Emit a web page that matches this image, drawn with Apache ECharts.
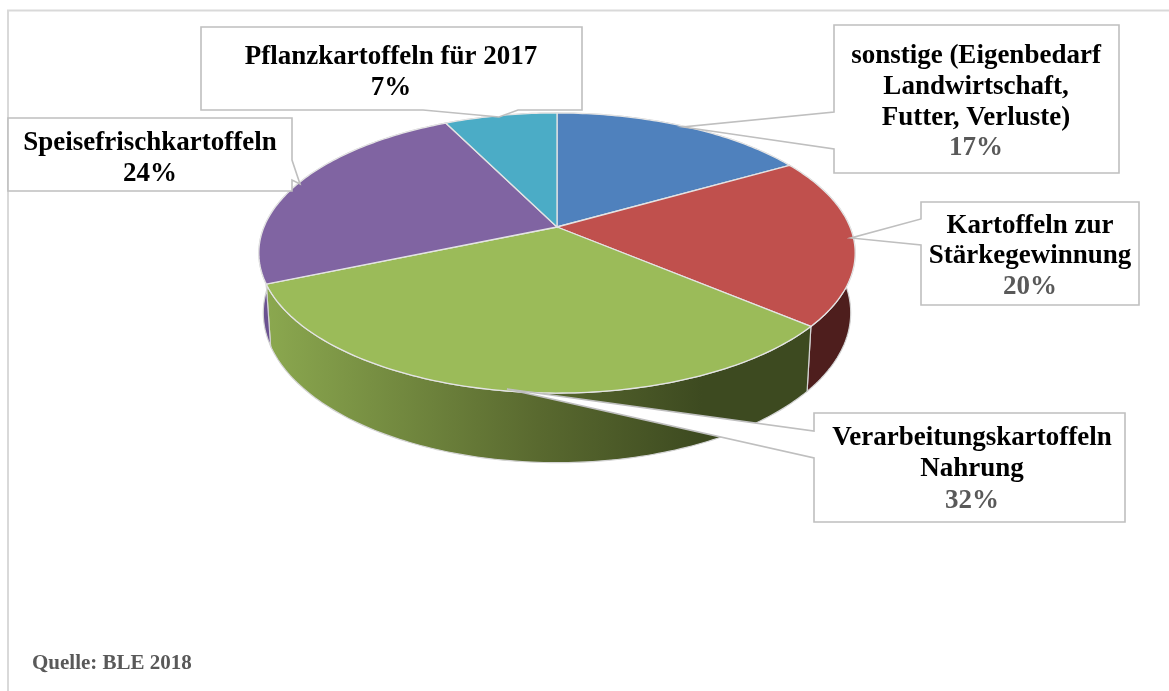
<!DOCTYPE html>
<html>
<head>
<meta charset="utf-8">
<style>html,body{margin:0;padding:0;background:#fff}#c{width:1169px;height:691px}</style>
<script src="https://cdn.jsdelivr.net/npm/echarts@6/dist/echarts.min.js"></script>
</head>
<body>
<div id="c"></div>
<script>
// --- data ---
const categories = ['sonstige (Eigenbedarf Landwirtschaft, Futter, Verluste)', 'Kartoffeln zur Stärkegewinnung', 'Verarbeitungskartoffeln Nahrung', 'Speisefrischkartoffeln', 'Pflanzkartoffeln für 2017'];
const values = [16.7, 19.5, 32.4, 24.1, 7.3];
const labelLines = [
  ['sonstige (Eigenbedarf', 'Landwirtschaft,', 'Futter, Verluste)'],
  ['Kartoffeln zur', 'Stärkegewinnung'],
  ['Verarbeitungskartoffeln', 'Nahrung'],
  ['Speisefrischkartoffeln'],
  ['Pflanzkartoffeln für 2017']
];
const source = 'Quelle: BLE 2018';

// --- style ---
const topColors = ['#4f81bd', '#c0504d', '#9bbb59', '#8064a2', '#4bacc6'];
const wallColors = ['#3a5f8c', '#4e1e1d', null, '#6a5190', '#38808f'];
const pctColors = ['#595959', '#595959', '#595959', '#000000', '#000000'];
const serif = '"Liberation Serif","Times New Roman",serif';

// --- perspective pie layout ---
const P = {cx: 557, cy: 227, rx: 293, ry: 135.2, k: 0.1857, depth: 58, shrinkX: 0.985, shrinkY: 1.07};
function project(theta, lower) {
  const u = Math.sin(theta), v = Math.cos(theta), d = 1 + P.k * v;
  const sx = lower ? P.shrinkX : 1, sy = lower ? P.shrinkY : 1;
  return [P.cx + sx * P.rx * u / d, P.cy + (lower ? P.depth : 0) - sy * P.ry * v / d];
}
const total = values.reduce((a, b) => a + b, 0);
function sliceAngles(i) {
  let before = 0;
  for (let j = 0; j < i; j++) before += values[j];
  return [before / total * 2 * Math.PI, (before + values[i]) / total * 2 * Math.PI];
}
function arc(a0, a1, lower) {
  const n = Math.max(2, Math.ceil((a1 - a0) / (Math.PI / 180)));
  const pts = [];
  for (let t = 0; t <= n; t++) pts.push(project(a0 + (a1 - a0) * t / n, lower));
  return pts;
}

// --- callout layout: box [l, t, r, b], leader [start, apex, end], text centre x, line centres y, pct centre y ---
const callouts = [
  {box: [834, 25, 1119, 173], leader: [[834, 112], [683, 127], [834, 149]], side: 'left',   tx: 976,  ty: [56, 87, 118], py: 148},
  {box: [921, 202, 1139, 305], leader: [[921, 219], [851, 238], [921, 245]], side: 'left',   tx: 1030, ty: [226, 256], py: 287},
  {box: [814, 413, 1125, 522], leader: [[814, 431], [507, 389], [814, 458]], side: 'left',   tx: 972,  ty: [438, 469], py: 501},
  {box: [8, 118, 292, 191], leader: [[292, 160], [300, 184], [292, 180]], side: 'right',  tx: 150,  ty: [143], py: 174},
  {box: [201, 27, 582, 110], leader: [[518, 110], [499, 117], [423, 110]], side: 'bottom', tx: 391,  ty: [57], py: 88}
];
function calloutPoints(c) {
  const [l, t, r, b] = c.box;
  if (c.side === 'left')  return [[l, t], [r, t], [r, b], [l, b], c.leader[2], c.leader[1], c.leader[0]];
  if (c.side === 'right') return [[l, t], [r, t], c.leader[0], c.leader[1], c.leader[2], [r, b], [l, b]];
  return [[l, t], [r, t], [r, b], c.leader[0], c.leader[1], c.leader[2], [l, b]];
}

const chart = echarts.init(document.getElementById('c'), null, {renderer: 'canvas'});
chart.setOption({
  animation: false,
  backgroundColor: '#fff',
  tooltip: {show: false},
  title: {
    text: source, left: 32, top: 653, padding: 0,
    textStyle: {fontFamily: serif, fontWeight: 'bold', fontSize: 21, color: '#595959'}
  },
  graphic: [
    {type: 'line', shape: {x1: 7, y1: 10.5, x2: 1169, y2: 10.5}, style: {stroke: '#d9d9d9', lineWidth: 2}, silent: true},
    {type: 'line', shape: {x1: 8, y1: 10, x2: 8, y2: 691}, style: {stroke: '#d9d9d9', lineWidth: 2}, silent: true}
  ],
  series: [
    { // outer walls
      type: 'custom', coordinateSystem: 'none', silent: true, z: 1,
      data: values.map((v, i) => ({name: categories[i], value: [v]})),
      renderItem(params) {
        const i = params.dataIndex, [a0, a1] = sliceAngles(i);
        const pts = arc(a0, a1, false).concat(arc(a0, a1, true).reverse());
        const fill = i === 2
          ? new echarts.graphic.LinearGradient(0, 0, 1, 0, [
              {offset: 0, color: '#8ba84f'}, {offset: 0.5, color: '#59692f'},
              {offset: 0.8, color: '#3d4a20'}, {offset: 1, color: '#3d4a20'}])
          : wallColors[i];
        return {type: 'polygon', shape: {points: pts}, style: {fill, stroke: '#d4d4d4', lineWidth: 1.2}};
      }
    },
    { // top faces
      type: 'custom', coordinateSystem: 'none', silent: true, z: 2,
      data: values.map((v, i) => ({name: categories[i], value: [v]})),
      renderItem(params) {
        const i = params.dataIndex, [a0, a1] = sliceAngles(i);
        const pts = [[P.cx, P.cy]].concat(arc(a0, a1, false));
        return {type: 'polygon', shape: {points: pts}, style: {fill: topColors[i], stroke: '#e4e4e4', lineWidth: 1.3}};
      }
    },
    { // callouts
      type: 'custom', coordinateSystem: 'none', silent: true, z: 3,
      data: values.map((v, i) => ({name: categories[i], value: [v]})),
      renderItem(params, api) {
        const i = params.dataIndex, c = callouts[i];
        const font = 'bold 27px ' + serif;
        const children = [{type: 'polygon', shape: {points: calloutPoints(c)},
          style: {fill: '#fff', stroke: '#bfbfbf', lineWidth: 1.6}}];
        labelLines[i].forEach((line, j) => children.push({type: 'text',
          style: {x: c.tx, y: c.ty[j], text: line, font, fill: '#000', align: 'center', verticalAlign: 'middle'}}));
        children.push({type: 'text',
          style: {x: c.tx, y: c.py, text: Math.round(api.value(0)) + '%', font, fill: pctColors[i], align: 'center', verticalAlign: 'middle'}});
        return {type: 'group', children};
      }
    }
  ]
});
</script>
</body>
</html>
